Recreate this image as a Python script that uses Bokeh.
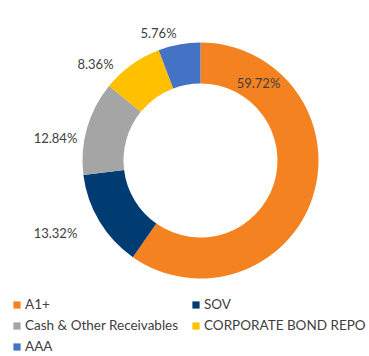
import numpy as np
from bokeh.plotting import figure
from bokeh.models import ColumnDataSource, Range1d, Legend, LegendItem
from bokeh.embed import file_html
from bokeh.resources import INLINE
from bokeh.core.properties import value

# data
categories = ["A1+", "SOV", "Cash & Other Receivables", "CORPORATE BOND REPO", "AAA"]
values = [59.72, 13.32, 12.84, 8.36, 5.76]
labels = ["59.72%", "13.32%", "12.84%", "8.36%", "5.76%"]
colors = ["#F58220", "#003B71", "#A5A5A5", "#FFC000", "#4472C4"]

# layout (screen px, y from top)
W, H = 369, 356
cx, cy_top = 200, 160
r_out, r_in = 118, 77
label_x = [258, 55, 55, 95, 158]
label_y = [82, 232, 137, 63, 32]
legend_order = [0, 2, 4, 1, 3]  # column-major fill -> row-major look

vals = np.array(values)
frac = vals / vals.sum()
cum = np.concatenate([[0], np.cumsum(frac)])
start = np.pi / 2 - 2 * np.pi * cum[:-1]
end = np.pi / 2 - 2 * np.pi * cum[1:]

src = ColumnDataSource(dict(
    cat=categories, start=start, end=end, color=colors,
    x=[cx] * len(values), y=[H - cy_top] * len(values),
))

p = figure(width=W, height=H, output_backend="svg", toolbar_location=None,
           x_range=Range1d(0, W), y_range=Range1d(0, H), min_border=0)
p.axis.visible = False
p.grid.visible = False
p.outline_line_color = None

r = p.annular_wedge(x="x", y="y", inner_radius=r_in, outer_radius=r_out,
                    start_angle="start", end_angle="end", direction="clock",
                    fill_color="color", line_color=None, source=src)

lsrc = ColumnDataSource(dict(x=label_x, y=[H - v for v in label_y], t=labels))
p.text(x="x", y="y", text="t", source=lsrc, text_align="center",
       text_baseline="middle", text_font=value("Lato"),
       text_font_size="13px", text_color="#404040")

items = [LegendItem(label=categories[i], renderers=[r], index=i) for i in legend_order]
legend = Legend(items=items, ncols=2, location=(12, 2),
                label_text_font="Lato", label_text_font_size="13.5px",
                label_text_color="#404040", glyph_width=9, glyph_height=9,
                label_standoff=4, spacing=5, label_height=15, label_width=161,
                padding=0, margin=0, border_line_color=None,
                background_fill_alpha=0)
p.add_layout(legend, "center")

open("out.html", "w").write(file_html(p, INLINE))
